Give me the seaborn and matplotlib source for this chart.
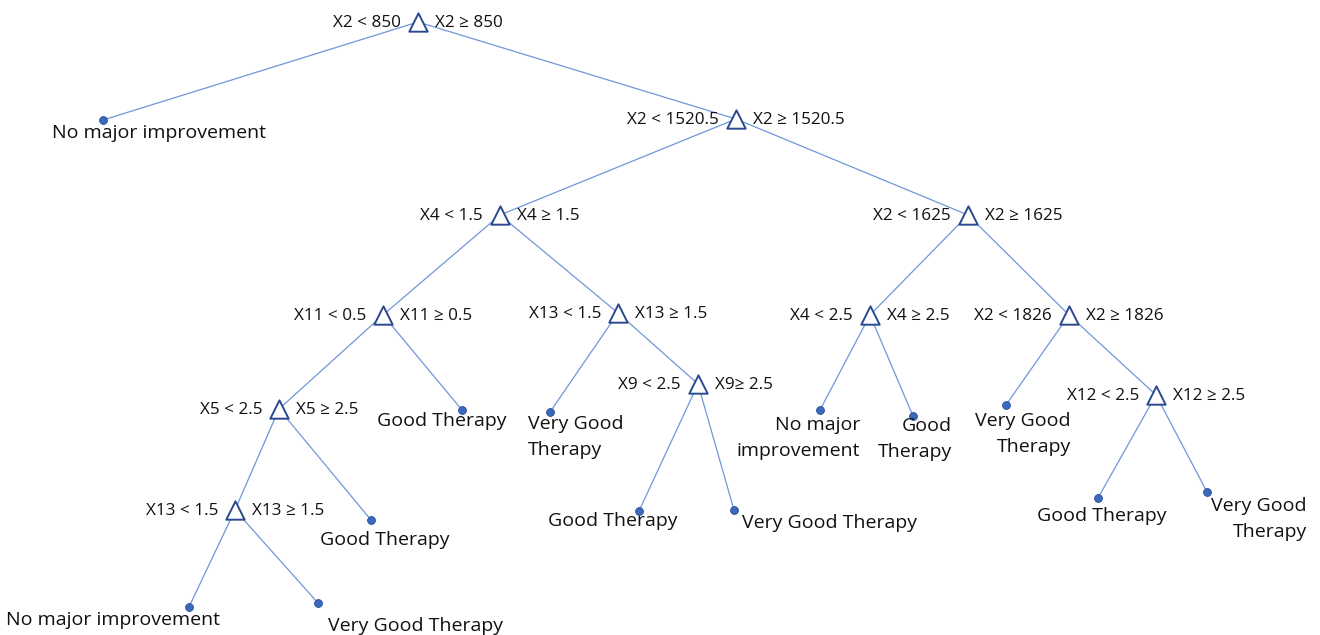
import pandas as pd
import matplotlib.pyplot as plt
import seaborn as sns

# Split nodes: id, left-branch rule, right-branch rule
split_ids = ["N0", "N1", "N2", "N3", "N4", "N5", "N6", "N7", "N8", "N9", "N10", "N11"]
split_left = ["X2 < 850", "X2 < 1520.5", "X4 < 1.5", "X2 < 1625", "X11 < 0.5", "X13 < 1.5",
              "X4 < 2.5", "X2 < 1826", "X5 < 2.5", "X9 < 2.5", "X12 < 2.5", "X13 < 1.5"]
split_right = ["X2 \u2265 850", "X2 \u2265 1520.5", "X4 \u2265 1.5", "X2 \u2265 1625", "X11 \u2265 0.5",
               "X13 \u2265 1.5", "X4 \u2265 2.5", "X2 \u2265 1826", "X5 \u2265 2.5", "X9\u2265 2.5",
               "X12 \u2265 2.5", "X13 \u2265 1.5"]

# Leaf nodes: id, predicted class
leaf_ids = ["L1", "L2", "L3", "L4", "L5", "L6", "L7", "L8", "L9", "L10", "L11", "L12", "L13"]
leaf_labels = ["No major improvement", "Good Therapy", "Very Good\nTherapy", "No major\nimprovement",
               "Good\nTherapy", "Very Good\nTherapy", "Good Therapy", "Good Therapy",
               "Very Good Therapy", "Good Therapy", "Very Good\nTherapy", "No major improvement",
               "Very Good Therapy"]

# Tree structure: parent -> (left child, right child)
children = {
    "N0": ("L1", "N1"), "N1": ("N2", "N3"), "N2": ("N4", "N5"), "N3": ("N6", "N7"),
    "N4": ("N8", "L2"), "N5": ("L3", "N9"), "N6": ("L4", "L5"), "N7": ("L6", "N10"),
    "N8": ("N11", "L7"), "N9": ("L8", "L9"), "N10": ("L10", "L11"), "N11": ("L12", "L13"),
}

# Layout (canvas pixels, y downwards)
split_pos = {"N0": (418, 22), "N1": (736, 119), "N2": (500, 215), "N3": (968, 215),
             "N4": (383, 315), "N5": (618, 313), "N6": (870, 315), "N7": (1069, 315),
             "N8": (279, 409), "N9": (698, 384), "N10": (1156, 395), "N11": (235, 510)}
leaf_pos = {"L1": (103, 120), "L2": (462, 410), "L3": (550, 412), "L4": (820, 410),
            "L5": (913, 416), "L6": (1006, 405), "L7": (371, 520), "L8": (639, 511),
            "L9": (734, 510), "L10": (1098, 498), "L11": (1207, 492), "L12": (189, 607),
            "L13": (318, 603)}
# where each leaf caption sits: x, y centre, alignment
leaf_text = {"L1": (159, 133, "center"), "L2": (442, 421, "center"), "L3": (528, 437, "left"),
             "L4": (860, 438, "right"), "L5": (952, 439, "right"), "L6": (1071, 434, "right"),
             "L7": (385, 540, "center"), "L8": (613, 521, "center"), "L9": (830, 523, "center"),
             "L10": (1102, 516, "center"), "L11": (1307, 519, "right"), "L12": (113, 620, "center"),
             "L13": (415, 626, "center")}

pos = {**split_pos, **leaf_pos}
splits = pd.DataFrame({"id": split_ids, "left": split_left, "right": split_right})
splits["x"] = splits["id"].map(lambda k: split_pos[k][0])
splits["y"] = splits["id"].map(lambda k: split_pos[k][1])
leaves = pd.DataFrame({"id": leaf_ids, "label": leaf_labels})
leaves["x"] = leaves["id"].map(lambda k: leaf_pos[k][0])
leaves["y"] = leaves["id"].map(lambda k: leaf_pos[k][1])

sns.set_theme(style="white")
plt.rcParams["font.family"] = ["Open Sans", "DejaVu Sans"]

fig = plt.figure(figsize=(13.2, 6.35), dpi=100)
ax = fig.add_axes([0, 0, 1, 1])

# edges
for parent, kids in children.items():
    for kid in kids:
        ax.plot([pos[parent][0], pos[kid][0]], [pos[parent][1], pos[kid][1]],
                color="#6f97d8", lw=0.9, zorder=1)

sns.scatterplot(data=leaves, x="x", y="y", ax=ax, s=32, color="#3a68bd",
                edgecolor="#2a4f99", linewidth=0.6, zorder=3, legend=False)
sns.scatterplot(data=splits, x="x", y="y", ax=ax, marker="^", s=175, facecolor="white",
                edgecolor="#2b4a8e", linewidth=1.4, zorder=3, legend=False)

for _, r in splits.iterrows():
    ax.text(r["x"] - 17, r["y"] + 1, r["left"], ha="right", va="center", fontsize=12.3, color="#111111")
    ax.text(r["x"] + 17, r["y"] + 1, r["right"], ha="left", va="center", fontsize=12.3, color="#111111")

for _, r in leaves.iterrows():
    tx, ty, ha = leaf_text[r["id"]]
    ax.text(tx, ty, r["label"], ha=ha, va="center", fontsize=14, color="#111111", linespacing=1.6)

ax.set_xlim(0, 1320)
ax.set_ylim(635, 0)
ax.axis("off")
fig.savefig("out.png", dpi=100, facecolor="white")
